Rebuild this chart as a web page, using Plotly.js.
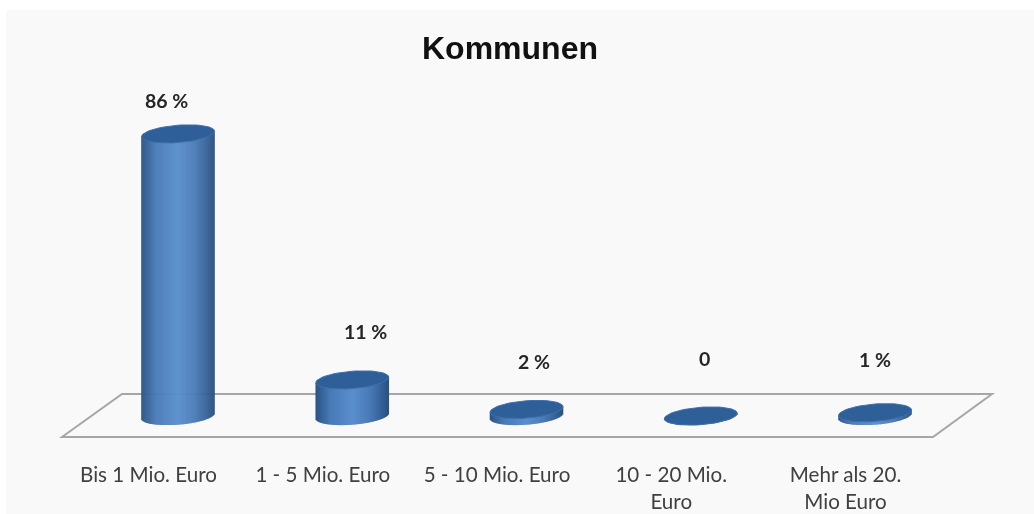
<!DOCTYPE html>
<html><head><meta charset="utf-8">
<script src="https://cdn.plot.ly/plotly-3.0.1.min.js"></script>
<style>html,body{margin:0;padding:0;background:#fff;overflow:hidden}#c{width:1034px;height:514px;filter:blur(0.6px)}</style>
</head><body><div id="c"></div>
<script>
const categories = ['Bis 1 Mio. Euro','1 - 5 Mio. Euro','5 - 10 Mio. Euro','10 - 20 Mio.<br>Euro','Mehr als 20.<br>Mio Euro'];
const values = [86, 11, 2, 0, 1];
const valueLabels = ['86 %','11 %','2 %','0','1 %'];

// geometry of the drawing (pixels), turned into axis units below
const W = 1034, H = 514, plotH = 440;
const catPx = 174.25, firstTickPx = 148.5, zeroPx = 416, unitPx = 3.28;
const depthPx = 29.5, radiusPx = 36.5, minorPx = 8.7, tilt = 0.075;
const labelDx = [-12, 13, 7, 4, 0], labelGap = [33, 48, 48, 58, 53];

const depth = depthPx / catPx, a = radiusPx / catPx, b = minorPx / unitPx;
const slope = tilt * catPx / unitPx;
const stops = [[0,[44,84,135]],[0.07,[52,96,150]],[0.2,[72,122,182]],[0.5,[90,142,205]],[0.72,[76,125,186]],[0.9,[54,98,152]],[1,[44,80,128]]];
function shade(t){
  for(let i=1;i<stops.length;i++) if(t<=stops[i][0]){
    const p=stops[i-1],q=stops[i],f=(t-p[0])/(q[0]-p[0]);
    return 'rgb('+p[1].map((c,j)=>Math.round(c+(q[1][j]-c)*f)).join(',')+')';
  }
  return 'rgb(44,80,128)';
}
const N = 73, sx=[], sy=[], sb=[], sc=[];
values.forEach((v,i)=>{
  for(let n=0;n<N;n++){
    const t=(n+0.5)/N, dx=(2*t-1)*a, arc=b*Math.sqrt(Math.max(0,1-(dx/a)*(dx/a)));
    sx.push(i+depth+dx); sb.push(slope*dx-arc); sy.push(v+arc); sc.push(shade(t));
  }
});
const ex=[], ey=[];
values.forEach((v,i)=>{
  for(let n=0;n<=72;n++){
    const th=n/72*2*Math.PI, dx=a*Math.cos(th);
    ex.push(i+depth+dx); ey.push(v+slope*dx+b*Math.sin(th));
  }
  ex.push(null); ey.push(null);
});
const data = [
  {type:'bar', name:'Kommunen', x:sx, y:sy, base:sb, width:2*a/N*1.6,
   marker:{color:sc,line:{width:0}}, hoverinfo:'skip', showlegend:false},
  {type:'scatter', mode:'lines', x:ex, y:ey, fill:'toself', fillcolor:'#2f5f98',
   line:{color:'#3f70aa',width:1}, hoverinfo:'skip', showlegend:false}
];
const px=x=>x/W, py=y=>1-y/plotH;
const layout = {
  width:W, height:H, margin:{l:0,r:0,t:0,b:H-plotH,pad:0},
  paper_bgcolor:'#fff', plot_bgcolor:'rgba(0,0,0,0)', barmode:'overlay', showlegend:false,
  title:{text:'<b>Kommunen</b>', x:510/W, xanchor:'center', y:1-48/H, yanchor:'middle',
         font:{family:'Liberation Sans',size:32,color:'#111'}},
  xaxis:{range:[-firstTickPx/catPx,(W-firstTickPx)/catPx], tickmode:'array',
         tickvals:categories.map((c,i)=>i), ticktext:categories, showgrid:false, zeroline:false, showline:false,
         ticks:'outside', ticklen:16, tickcolor:'rgba(0,0,0,0)', tickfont:{family:'Lato',size:20.6,color:'#404040'}, fixedrange:true},
  yaxis:{range:[(zeroPx-plotH)/unitPx,zeroPx/unitPx], visible:false, fixedrange:true},
  shapes:[
    {type:'rect',xref:'paper',yref:'paper',layer:'below',x0:px(6),x1:px(W+4),y0:py(H+4),y1:py(10),fillcolor:'#f9f9f9',line:{width:0}},
    {type:'path',xref:'paper',yref:'paper',layer:'below',
     path:`M${px(62)},${py(437)} L${px(122)},${py(394)} L${px(992)},${py(394)} L${px(933)},${py(437)} Z`,
     line:{color:'#a6a6a6',width:2},fillcolor:'rgba(0,0,0,0)'}
  ],
  annotations: valueLabels.map((t,i)=>({
    x:i+depth, y:values[i], xref:'x', yref:'y', text:'<b>'+t+'</b>', showarrow:false,
    xshift:labelDx[i], yshift:labelGap[i], font:{family:'Lato',size:19.5,color:'#262626'}
  }))
};
Plotly.newPlot('c',data,layout,{displayModeBar:false,staticPlot:true});
</script></body></html>
